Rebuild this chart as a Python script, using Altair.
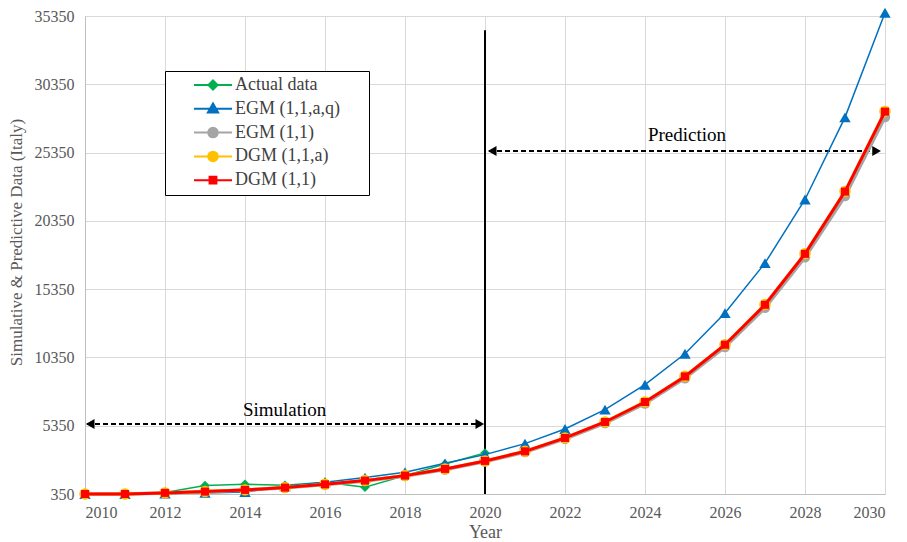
import altair as alt
import pandas as pd

# ---------------- data ----------------
years = list(range(2010, 2031))
actual_years = list(range(2010, 2021))
actual_data = [350, 350, 452, 964, 1060, 986, 1206, 840, 1696, 2552, 3357]
egm_1_1_a_q = [350, 350, 380, 430, 500, 913, 1206, 1550, 1950, 2595, 3232,
               4037, 5112, 6524, 8353, 10620, 13598, 17255, 21914, 27930, 35590]
egm_1_1 = [350, 350, 425, 515, 640, 805, 1045, 1310, 1670, 2150, 2730,
           3420, 4385, 5540, 6980, 8830, 11110, 13990, 17680, 22170, 27950]
dgm_1_1_a = [350, 355, 432, 528, 652, 820, 1062, 1333, 1700, 2190, 2775,
             3480, 4460, 5630, 7095, 8970, 11290, 14220, 17950, 22510, 28370]
dgm_1_1 = [350, 350, 430, 525, 650, 818, 1060, 1330, 1696, 2186, 2771,
           3474, 4454, 5624, 7087, 8960, 11279, 14205, 17936, 22493, 28346]

series_names = ["Actual data", "EGM (1,1,a,q)", "EGM (1,1)", "DGM (1,1,a)", "DGM (1,1)"]
series_values = [actual_data, egm_1_1_a_q, egm_1_1, dgm_1_1_a, dgm_1_1]
series_years = [actual_years, years, years, years, years]

x_ticks = list(range(2010, 2031, 2))
y_ticks = [350, 5350, 10350, 15350, 20350, 25350, 30350, 35350]

# annotations
divider_year = [2020]
divider_from = [350]
divider_to = [34300]
arrow_start = [2010.05, 2020.1]
arrow_end = [2019.9, 2029.8]
arrow_level = [5480, 25470]
head_year = [2010.13, 2019.87, 2020.18, 2029.79]
head_level = [5480, 5480, 25470, 25470]
head_shape = ["triangle-left", "triangle-right", "triangle-left", "triangle-right"]
note_text = ["Simulation", "Prediction"]
note_year = [2014.99, 2025.05]
note_level = [6520, 26640]

# ---------------- styles ----------------
colors = ["#00b050", "#0070c0", "#a5a5a5", "#ffc000", "#ff0000"]
line_widths = [1.5, 1.5, 3.5, 3.0, 3.0]
marker_shapes = ["diamond", "triangle-up", "circle", "circle", "square"]
marker_sizes = [90, 130, 110, 130, 64]
legend_paths = [
    "M-1,0L1,0M0,-0.24L0.24,0L0,0.24L-0.24,0Z",
    "M-1,0L1,0M0,-0.28L0.27,0.2L-0.27,0.2Z",
    "M-1,0L1,0M0.25,0A0.25,0.25,0,1,1,-0.25,0A0.25,0.25,0,1,1,0.25,0Z",
    "M-1,0L1,0M0.25,0A0.25,0.25,0,1,1,-0.25,0A0.25,0.25,0,1,1,0.25,0Z",
    "M-1,0L1,0M-0.18,-0.18L0.18,-0.18L0.18,0.18L-0.18,0.18Z",
]

FONT = "Liberation Serif"
GRAY_TEXT = "#595959"

rows = []
for name, ys, vals in zip(series_names, series_years, series_values):
    for yr, v in zip(ys, vals):
        rows.append({"year": yr, "value": v, "series": name})
df = pd.DataFrame(rows)

x_enc = alt.X(
    "year:Q",
    scale=alt.Scale(domain=[2010, 2030], nice=False, zero=False),
    axis=alt.Axis(values=x_ticks, format="d", title="Year", grid=True,
                  labelFontSize=16, titleFontSize=18, labelPadding=10,
                  titleBaseline="alphabetic", titleY=43),
)
y_enc = alt.Y(
    "value:Q",
    scale=alt.Scale(domain=[350, 35350], nice=False, zero=False),
    axis=alt.Axis(values=y_ticks, format="d",
                  title="Simulative & Predictive Data (Italy)", grid=True,
                  labelFontSize=16, titleFontSize=17, labelPadding=11,
                  titleX=-60, titleY=226),
)

# an invisible right-hand legend title only widens the legend frame
legend = alt.Legend(
    title="MM", titleOrient="right", titleOpacity=0, titleFontSize=13,
    titlePadding=0, titleFont=FONT,
    orient="none", legendX=80, legendY=55, direction="vertical",
    fillColor="white", strokeColor="black", padding=4, rowPadding=3.8,
    clipHeight=20, symbolSize=1444, symbolOffset=24, labelOffset=2,
    symbolStrokeWidth=2, symbolOpacity=1,
    labelFont=FONT, labelFontSize=18, labelColor="#404040",
)

series_scale = alt.Scale(domain=series_names, range=colors)
shape_scale = alt.Scale(domain=series_names, range=legend_paths)

# invisible layer that only carries the legend (colour + line/marker symbol)
legend_layer = alt.Chart(df).mark_point(filled=True, opacity=0).encode(
    x=x_enc, y=y_enc,
    color=alt.Color("series:N", scale=series_scale, legend=legend),
    stroke=alt.Stroke("series:N", scale=series_scale, legend=legend),
    shape=alt.Shape("series:N", scale=shape_scale, legend=legend),
)

base = alt.Chart(df)
layers = []
for i, name in enumerate(series_names):
    sub = base.transform_filter(alt.datum.series == name)
    layers.append(
        sub.mark_line(strokeWidth=line_widths[i], color=colors[i]).encode(x=x_enc, y=y_enc)
    )
    layers.append(
        sub.mark_point(shape=marker_shapes[i], size=marker_sizes[i], filled=True,
                       opacity=1, color=colors[i]).encode(x=x_enc, y=y_enc)
    )

div_df = pd.DataFrame({"year": divider_year, "lo": divider_from, "hi": divider_to})
divider = alt.Chart(div_df).mark_rule(color="black", strokeWidth=2).encode(
    x="year:Q", y="lo:Q", y2="hi:Q")

arr_df = pd.DataFrame({"x0": arrow_start, "x1": arrow_end, "lvl": arrow_level})
arrows = alt.Chart(arr_df).mark_rule(color="black", strokeWidth=2,
                                     strokeDash=[5, 3]).encode(
    x="x0:Q", x2="x1:Q", y="lvl:Q")

head_df = pd.DataFrame({"x": head_year, "y": head_level, "s": head_shape})
heads = alt.Chart(head_df).mark_point(filled=True, color="black", size=100,
                                      opacity=1).encode(
    x="x:Q", y="y:Q", shape=alt.Shape("s:N", scale=None, legend=None))

note_df = pd.DataFrame({"x": note_year, "y": note_level, "t": note_text})
notes = alt.Chart(note_df).mark_text(font=FONT, fontSize=19, color="black").encode(
    x="x:Q", y="y:Q", text="t:N")

chart = alt.layer(legend_layer, divider, arrows, heads, notes, *layers).properties(
    width=800, height=478,
    autosize=alt.AutoSizeParams(type="none"),
    padding={"left": 77, "top": 8, "right": 13, "bottom": 46},
).configure(font=FONT).configure_view(stroke=None).configure_axis(
    labelFont=FONT, titleFont=FONT, labelColor=GRAY_TEXT, titleColor=GRAY_TEXT,
    titleFontWeight="normal", gridColor="#d9d9d9", gridWidth=1,
    domainColor="#bfbfbf", domainWidth=1, ticks=False, tickSize=0,
)

chart.save("out.html", embed_options={"renderer": "svg", "actions": False})
